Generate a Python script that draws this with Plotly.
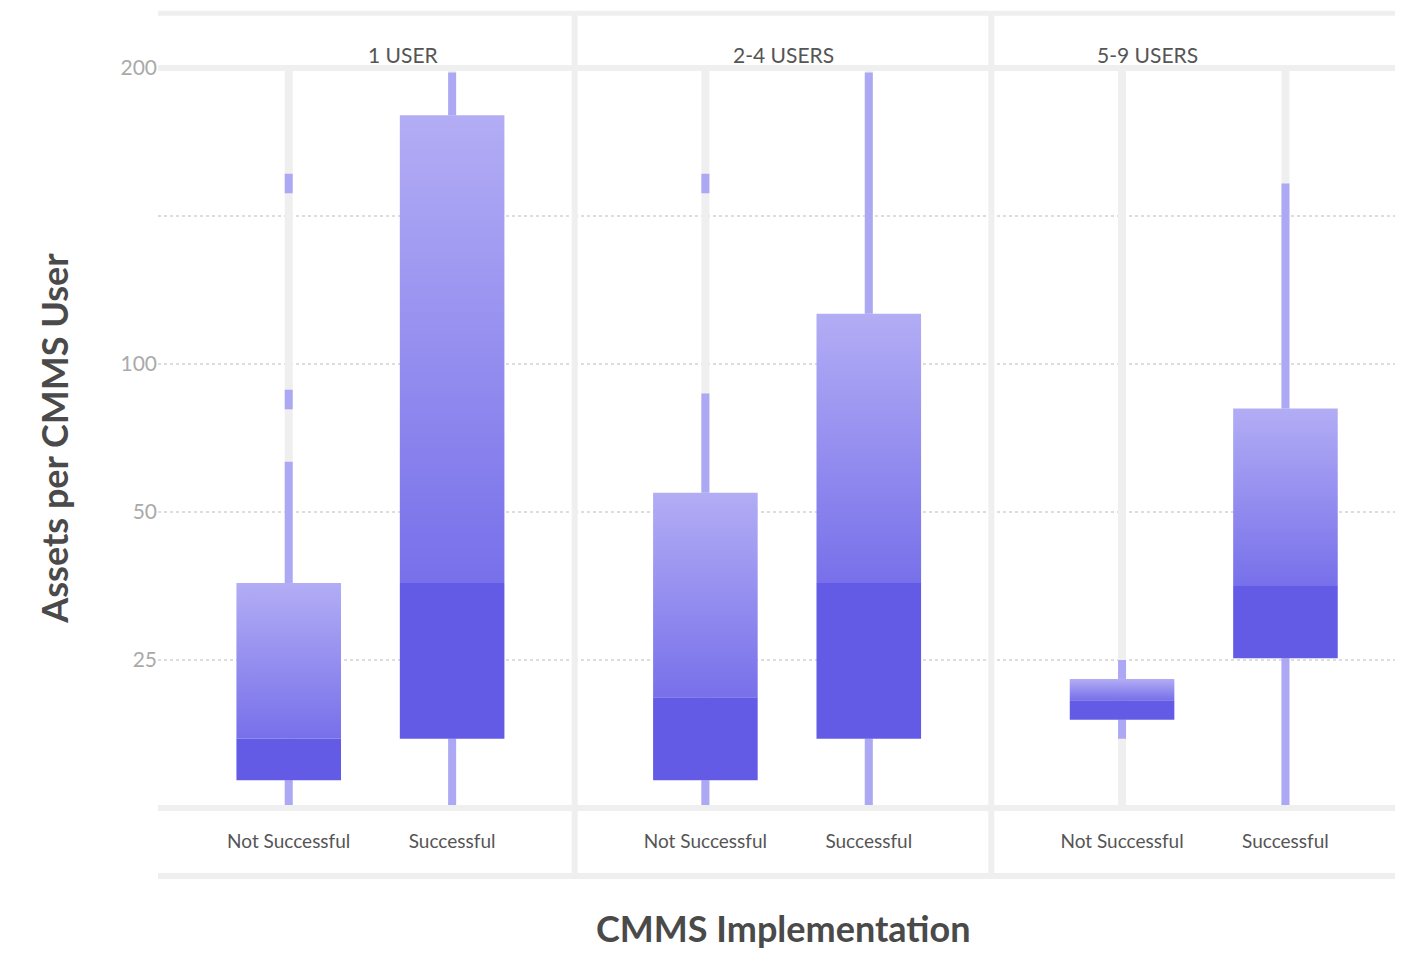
import numpy as np
import plotly.graph_objects as go
from plotly.subplots import make_subplots

# ---- data (assets per CMMS user) ----
panels = ["1 USER", "2-4 USERS", "5-9 USERS"]
groups = ["Not Successful", "Successful"]

lower_whisker = [[0, 0], [0, 0], [11.7, 0]]
q1 = [[4.7, 11.7], [4.7, 11.7], [14.9, 25.3]]
median = [[11.7, 38], [18.7, 38], [18.2, 37.5]]
q3 = [[38, 184], [56.5, 117], [21.8, 85]]
upper_whisker = [[67, 198.5], [90, 198.5], [25, 161]]
outliers = [[[88, 161], []], [[161], []], [[], []]]

# axis is piecewise (value -> position)
scale_vals = [0, 25, 50, 100, 150, 200]
scale_pos = [0, 1, 2, 3, 4, 5]
tick_vals = [25, 50, 100, 150, 200]
tick_text = ["25", "50", "100", "", "200"]


def tr(v):
    return np.interp(v, scale_vals, scale_pos)


DARK = "#635BE6"
LIGHT = "#B3ADF5"
WHISK = "#ADA8F3"
GREY = "#EFEFEF"
FONT = "Lato"

fig = make_subplots(rows=1, cols=3, shared_yaxes=True, horizontal_spacing=0)
hw = 0.32

for p in range(3):
    for g in range(2):
        x = g
        # background track
        fig.add_trace(go.Scatter(x=[x, x], y=[0, 5], mode="lines",
                                 line=dict(color=GREY, width=8), hoverinfo="skip"), row=1, col=p + 1)
        # whiskers
        fig.add_trace(go.Scatter(x=[x, x], y=[tr(lower_whisker[p][g]), tr(q1[p][g])], mode="lines",
                                 line=dict(color=WHISK, width=8)), row=1, col=p + 1)
        fig.add_trace(go.Scatter(x=[x, x], y=[tr(q3[p][g]), tr(upper_whisker[p][g])], mode="lines",
                                 line=dict(color=WHISK, width=8)), row=1, col=p + 1)
        # lower half of box
        a, m, b = tr(q1[p][g]), tr(median[p][g]), tr(q3[p][g])
        fig.add_trace(go.Scatter(x=[x - hw, x + hw, x + hw, x - hw, x - hw], y=[a, a, m, m, a],
                                 mode="lines", line=dict(width=0), fill="toself",
                                 fillcolor=DARK), row=1, col=p + 1)
        # upper half with gradient
        fig.add_trace(go.Scatter(x=[x - hw, x + hw, x + hw, x - hw, x - hw], y=[m, m, b, b, m],
                                 mode="lines", line=dict(width=0), fill="toself",
                                 fillgradient=dict(type="vertical", start=m, stop=b,
                                                   colorscale=[[0, "#7770EA"], [1, LIGHT]])),
                      row=1, col=p + 1)
        if outliers[p][g]:
            fig.add_trace(go.Scatter(x=[x] * len(outliers[p][g]), y=[tr(v) for v in outliers[p][g]],
                                     mode="markers",
                                     marker=dict(symbol="line-ns", size=14, color=WHISK,
                                                 line=dict(color=WHISK, width=8))), row=1, col=p + 1)

for c in range(1, 4):
    fig.update_xaxes(range=[-0.8, 1.75], tickvals=[0, 1], ticktext=groups, showgrid=False,
                     zeroline=False, showline=False, ticks="", ticklabelstandoff=20,
                     tickfont=dict(family=FONT, size=19, color="#555"), row=1, col=c)
fig.update_yaxes(range=[0, 5], tickvals=[tr(v) for v in tick_vals], ticktext=tick_text,
                 showgrid=True, gridcolor="#DDDDDD", griddash="dot", gridwidth=1.5,
                 zeroline=False, showline=False, ticks="",
                 tickfont=dict(family=FONT, size=21, color="#AAAAAA"))
fig.update_yaxes(title=dict(text="<b>Assets per CMMS User</b>", standoff=40,
                            font=dict(family=FONT, size=36, color="#4A4A4A")), row=1, col=1)

shapes = []
# header band lines and bottom lines
for yy in [1.0068, 1.0]:
    pass
shapes.append(dict(type="line", xref="paper", yref="paper", x0=0, x1=1, y0=1.074, y1=1.074,
                   line=dict(color=GREY, width=5)))
shapes.append(dict(type="line", xref="paper", yref="paper", x0=0, x1=1, y0=1.0, y1=1.0,
                   line=dict(color=GREY, width=6)))
shapes.append(dict(type="line", xref="paper", yref="paper", x0=0, x1=1, y0=0, y1=0,
                   line=dict(color=GREY, width=6)))
shapes.append(dict(type="line", xref="paper", yref="paper", x0=0, x1=1, y0=-0.092, y1=-0.092,
                   line=dict(color=GREY, width=6)))
for xs in [1 / 3, 2 / 3]:
    shapes.append(dict(type="line", xref="paper", yref="paper", x0=xs, x1=xs, y0=-0.092, y1=1.074,
                       line=dict(color=GREY, width=6)))
fig.update_layout(shapes=shapes)

for i, name in enumerate(panels):
    fig.add_annotation(x=(i + 0.5) / 3, y=1.038, xref="paper", yref="paper", text=name,
                       showarrow=False, font=dict(family=FONT, size=21, color="#555"))
fig.add_annotation(x=0.5, y=-0.194, xref="paper", yref="paper", text="<b>CMMS Implementation</b>",
                   showarrow=False, font=dict(family=FONT, size=36, color="#4A4A4A"))

fig.update_layout(width=1403, height=967, showlegend=False, plot_bgcolor="white",
                  paper_bgcolor="white", margin=dict(l=150, r=3, t=60, b=167))

fig.write_html("out.html")
